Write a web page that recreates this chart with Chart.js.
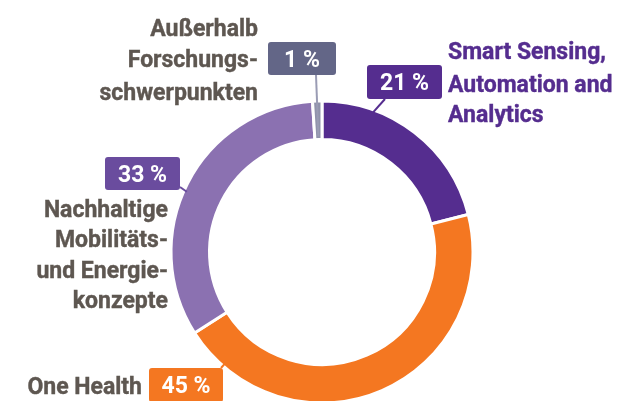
<!DOCTYPE html>
<html>
<head>
<meta charset="utf-8">
<script src="https://cdn.jsdelivr.net/npm/chart.js@4/dist/chart.umd.min.js"></script>
<style>
html,body{margin:0;padding:0;background:#fff;}
#wrap{width:624px;height:401px;position:relative;}
</style>
</head>
<body>
<div id="wrap"><canvas id="c" width="624" height="401"></canvas></div>
<script>
// ---- data ----
const categories = [
  'Smart Sensing, Automation and Analytics',
  'One Health',
  'Nachhaltige Mobilitäts- und Energiekonzepte',
  'Außerhalb Forschungsschwerpunkten'
];
const shares = [21, 45, 33, 1];
const percentLabels = ['21 %', '45 %', '33 %', '1 %'];
const labelLines = [
  ['Smart Sensing,', 'Automation and', 'Analytics'],
  ['One Health'],
  ['Nachhaltige', 'Mobilitäts-', 'und Energie-', 'konzepte'],
  ['Außerhalb', 'Forschungs-', 'schwerpunkten']
];

// ---- styles / layout ----
const sliceColors = ['#552D8F', '#F47721', '#8B71B1', '#9093AB'];
const boxColors = ['#552D8F', '#F47721', '#6A4C9E', '#636687'];
const textColors = ['#552D8F', '#5E5751', '#5E5751', '#5E5751'];
const FONT = 'bold 23px Roboto';
const PFONT = 'bold 23px Roboto';
const layout = [
  {box:[367,65,75,34], tx:448, align:'left', base:[59,92,122], conn:{from:[385,99], ang:20, r:'outer'}},
  {box:[149,368,74,34], tx:142, align:'right', base:[394], conn:{from:[221,368], ang:221, r:'outer'}},
  {box:[105,157,75,33], tx:168, align:'right', base:[217,247,278,308], conn:{from:[180,187], ang:294, r:'outer'}},
  {box:[268,42,68,33], tx:258, align:'right', base:[36,67,100], conn:{from:[316,75], ang:358.2, r:'inner'}}
];

function roundRect(ctx,x,y,w,h,r){
  ctx.beginPath();
  ctx.moveTo(x+r,y);
  ctx.lineTo(x+w-r,y);ctx.quadraticCurveTo(x+w,y,x+w,y+r);
  ctx.lineTo(x+w,y+h-r);ctx.quadraticCurveTo(x+w,y+h,x+w-r,y+h);
  ctx.lineTo(x+r,y+h);ctx.quadraticCurveTo(x,y+h,x,y+h-r);
  ctx.lineTo(x,y+r);ctx.quadraticCurveTo(x,y,x+r,y);
  ctx.closePath();
}

const labelPlugin = {
  id:'labelPlugin',
  afterDatasetsDraw(chart){
    const ctx = chart.ctx;
    const meta = chart.getDatasetMeta(0);
    ctx.save();
    layout.forEach((L,i)=>{
      const arc = meta.data[i];
      const cx = arc.x, cy = arc.y;
      const rr = L.conn.r==='outer' ? arc.outerRadius - 3 : arc.innerRadius + 3;
      const a = L.conn.ang*Math.PI/180;
      const px = cx + rr*Math.sin(a), py = cy - rr*Math.cos(a);
      ctx.strokeStyle = i===3 ? '#9A9CB4' : boxColors[i];
      ctx.lineWidth = 2;
      ctx.beginPath();
      ctx.moveTo(L.conn.from[0], L.conn.from[1]);
      ctx.lineTo(px, py);
      ctx.stroke();
    });
    layout.forEach((L,i)=>{
      const [bx,by,bw,bh] = L.box;
      ctx.fillStyle = boxColors[i];
      roundRect(ctx,bx,by,bw,bh,3);
      ctx.fill();
      ctx.font = PFONT;
      ctx.fillStyle = '#ffffff';
      ctx.textAlign = 'center';
      ctx.textBaseline = 'alphabetic';
      ctx.fillText(percentLabels[i], bx+bw/2, by+bh/2+8);
      ctx.font = FONT;
      ctx.fillStyle = textColors[i];
      ctx.textAlign = L.align;
      labelLines[i].forEach((t,k)=>{
        ctx.fillText(t, L.tx, L.base[k]);
        // slight overdraw for heavier strokes
        ctx.strokeStyle = textColors[i];
        ctx.lineWidth = 0.4;
        ctx.strokeText(t, L.tx, L.base[k]);
      });
    });
    ctx.restore();
  }
};

new Chart(document.getElementById('c'), {
  type:'doughnut',
  data:{
    labels:categories,
    datasets:[{
      data:shares,
      backgroundColor:sliceColors,
      borderColor:'#ffffff',
      borderWidth:3,
      radius:151,
      cutout:'74.5%'
    }]
  },
  options:{
    responsive:false,
    animation:false,
    rotation:0,
    layout:{padding:{left:20,right:0,top:103,bottom:0}},
    plugins:{legend:{display:false},tooltip:{enabled:false}}
  },
  plugins:[labelPlugin]
});
</script>
</body>
</html>
